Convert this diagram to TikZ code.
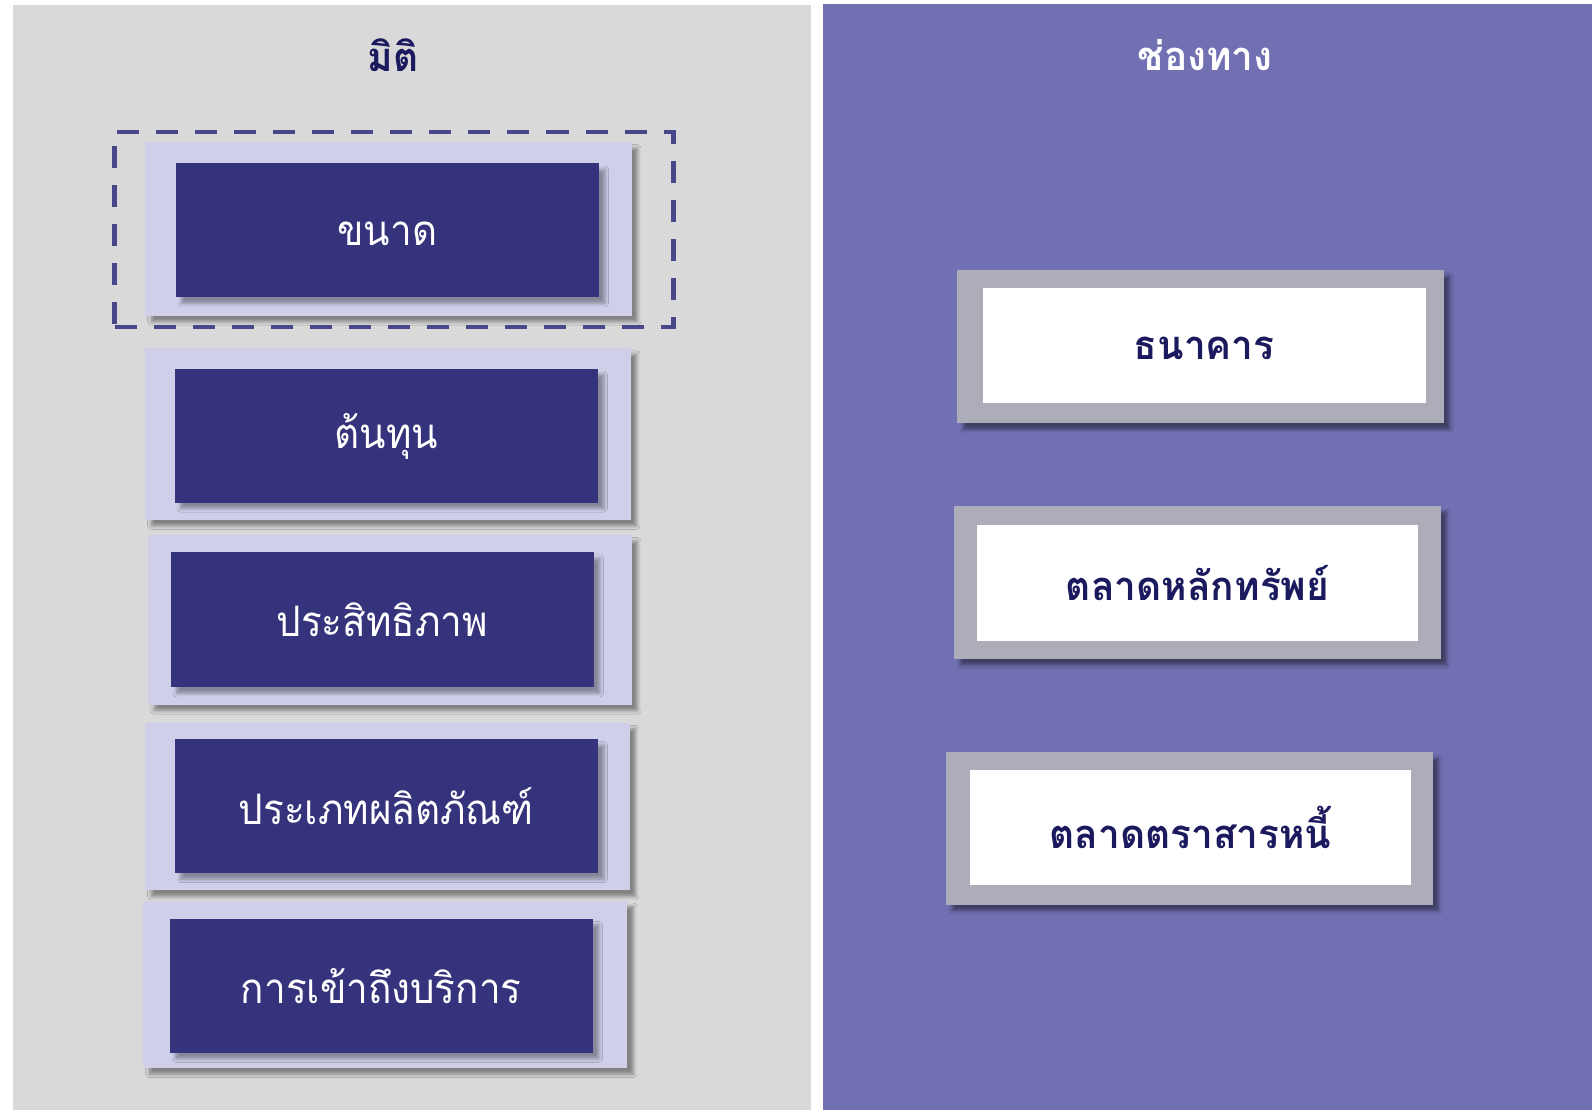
\documentclass[tikz,border=0pt]{standalone}
\usepackage{fontspec}
\newfontfamily\thainarrow[Script=Thai, FakeStretch=0.92]{Loma}
\newfontfamily\thaibold[Script=Thai, FakeStretch=0.97]{Loma Bold}
\usetikzlibrary{fit,shadows.blur}
\definecolor{leftbg}{HTML}{D9D9D9}
\definecolor{rightbg}{HTML}{7170B3}
\definecolor{lav}{HTML}{CFCFEA}
\definecolor{navy}{HTML}{35337B}
\definecolor{dashc}{HTML}{48478A}
\definecolor{titlenavy}{HTML}{1B1A5E}
\definecolor{greybox}{HTML}{ADADB9}
\tikzset{
  panel/.style={inner sep=0pt, outer sep=0pt, draw=none},
  outerL/.style={inner sep=0pt, fill=lav, blur shadow={shadow xshift=3pt, shadow yshift=-3pt, shadow blur steps=6, shadow opacity=40}},
  innerL/.style={inner sep=0pt, fill=navy, blur shadow={shadow xshift=3pt, shadow yshift=-3pt, shadow blur steps=6, shadow opacity=35}},
  labL/.style={text=white, font=\thainarrow\fontsize{21}{25}\selectfont},
  outerR/.style={inner sep=0pt, fill=greybox, blur shadow={shadow xshift=3pt, shadow yshift=-3pt, shadow blur steps=6, shadow opacity=45}},
  innerR/.style={inner sep=0pt, fill=white},
  labR/.style={text=titlenavy, font=\thaibold\fontsize{20}{24}\selectfont},
  titleL/.style={text=titlenavy, font=\thaibold\fontsize{20}{24}\selectfont},
  titleR/.style={text=white, font=\thaibold\fontsize{20}{24}\selectfont},
  selbox/.style={inner sep=0pt, draw=dashc, line width=2.4pt, dash pattern=on 11pt off 8.5pt}
}
\begin{document}
\begin{tikzpicture}[x=0.50765pt, y=-0.50765pt]
\useasboundingbox (0,0) rectangle (1568,1093);
\fill[white] (0,0) rectangle (1568,1093);
% panels
\node[panel, fill=leftbg, fit={(13,5) (799,1093)}] (leftpanel) {};
\node[panel, fill=rightbg, fit={(811,4) (1568,1093)}] (rightpanel) {};
\node[titleL] (titleleft) at (387,54) {มิติ};
\node[titleR] (titleright) at (1187,54) {ช่องทาง};
% left column
\node[outerL, fit={(143,140) (622,311)}] (o1) {};
\node[innerL, fit={(173,161) (590,293)}] (n1) {};
\node[labL] (t1) at ([yshift=-1.5pt]n1.center) {ขนาด};
\node[selbox, fit={(113,130) (663,322)}] (sel) {};

\node[outerL, fit={(143,343) (621,512)}] (o2) {};
\node[innerL, fit={(172,363) (589,495)}] (n2) {};
\node[labL] (t2) at ([yshift=-0.5pt]n2.center) {ต้นทุน};

\node[outerL, fit={(146,527) (622,694)}] (o3) {};
\node[innerL, fit={(168,544) (585,677)}] (n3) {};
\node[labL] (t3) at (n3.center) {ประสิทธิภาพ};

\node[outerL, fit={(143,712) (620,877)}] (o4) {};
\node[innerL, fit={(172,728) (589,860)}] (n4) {};
\node[labL] (t4) at (n4.center) {ประเภทผลิตภัณฑ์};

\node[outerL, fit={(141,887) (618,1052)}] (o5) {};
\node[innerL, fit={(167,905) (584,1037)}] (n5) {};
\node[labL] (t5) at (n5.center) {การเข้าถึงบริการ};
% right column
\node[outerR, fit={(943,266) (1422,417)}] (oa) {};
\node[innerR, fit={(968,284) (1404,397)}] (na) {};
\node[labR] (ta) at ([yshift=-1.5pt]na.center) {ธนาคาร};

\node[outerR, fit={(940,498) (1419,649)}] (ob) {};
\node[innerR, fit={(962,517) (1397,631)}] (nb) {};
\node[labR] (tb) at (nb.center) {ตลาดหลักทรัพย์};

\node[outerR, fit={(932,741) (1411,891)}] (oc) {};
\node[innerR, fit={(955,758) (1390,872)}] (nc) {};
\node[labR] (tc) at (nc.center) {ตลาดตราสารหนี้};
\end{tikzpicture}
\end{document}
